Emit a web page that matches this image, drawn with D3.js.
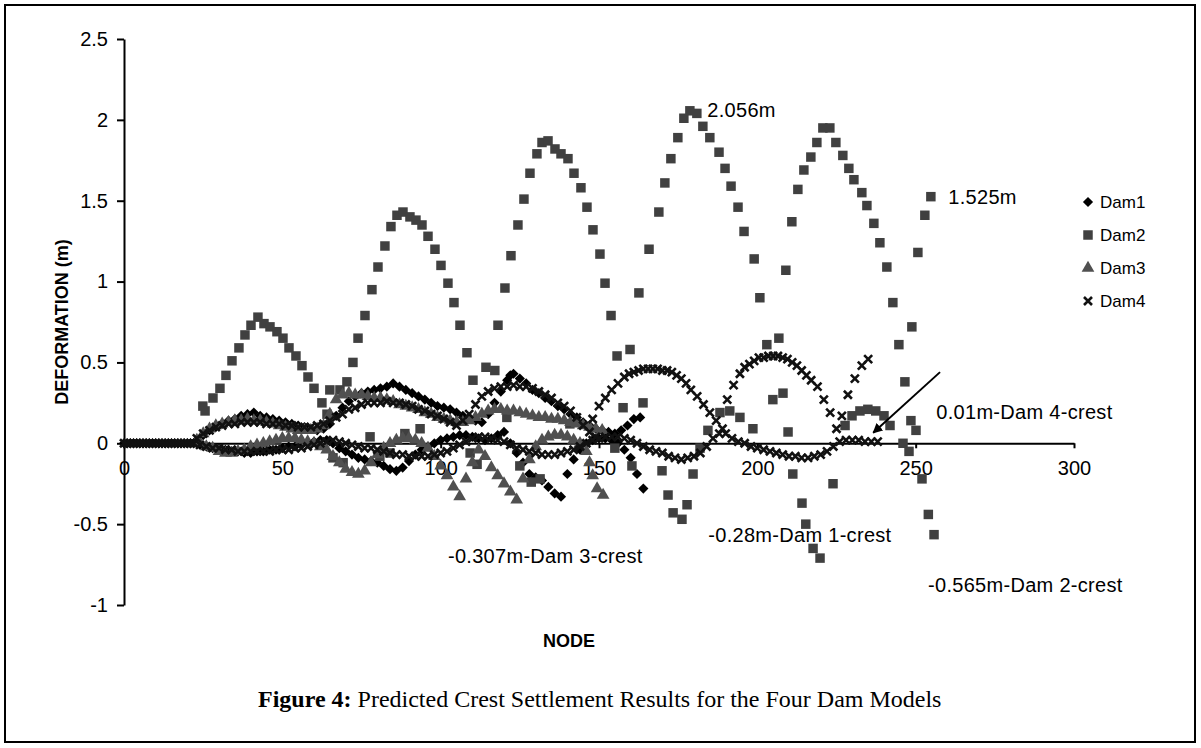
<!DOCTYPE html>
<html><head><meta charset="utf-8">
<script src="https://cdn.jsdelivr.net/npm/d3@7"></script>
<style>body{margin:0;background:#fff} svg{display:block}</style>
</head><body>
<svg id="c" width="1201" height="748"></svg>
<script>
// ---------- data ----------
const xTicks = [0, 50, 100, 150, 200, 250, 300];
const yTicks = [-1, -0.5, 0, 0.5, 1, 1.5, 2, 2.5];
const yTickLabels = ["-1", "-0.5", "0", "0.5", "1", "1.5", "2", "2.5"];
const seriesNames = ["Dam1", "Dam2", "Dam3", "Dam4"];

const dam1 = [
[0,0],[1,0],[2,0],[3,0],[4,0],[5,0],[6,0],[7,0],[8,0],[9,0],[10,0],[11,0],[12,0],[13,0],[14,0],[15,0],[16,0],[17,0],[18,0],[19,0],[20,0],[21,0],[22,0],
[23,0.02],[25,0.05],[27,0.08],[29,0.10],[31,0.12],[33,0.14],[35,0.15],[37,0.17],[39,0.18],[41,0.19],[43,0.17],[45,0.16],[47,0.15],[49,0.14],[51,0.13],[53,0.12],[55,0.11],[57,0.10],[59,0.09],[61,0.08],[63,0.09],[65,0.12],[67,0.17],[69,0.22],[71,0.26],[73,0.29],[75,0.31],[77,0.32],[79,0.33],[81,0.34],[83,0.35],[85,0.37],[87,0.35],[89,0.33],[91,0.31],[93,0.29],[95,0.27],[97,0.25],[99,0.23],[101,0.22],[103,0.21],[105,0.19],[107,0.17],[109,0.16],[111,0.14],[113,0.13],[115,0.18],[117,0.25],[119,0.32],[121,0.39],[122,0.42],[123,0.43],[125,0.40],[127,0.37],[129,0.33],[131,0.31],[133,0.28],[135,0.26],[137,0.23],[139,0.21],[141,0.18],[143,0.16],[145,0.13],[147,0.11],[149,0.09],[151,0.08],[153,0.07],[155,0.06],[157,0.08],[159,0.11],[161,0.15],[163,0.16],
[24,-0.01],[26,-0.02],[28,-0.03],[30,-0.03],[32,-0.04],[34,-0.05],[36,-0.05],[38,-0.06],[40,-0.06],[42,-0.05],[44,-0.05],[46,-0.04],[48,-0.04],[50,-0.03],[52,-0.02],[54,-0.02],[56,-0.01],[58,0.00],[60,0.01],[62,0.02],[64,0.02],[66,0.00],[68,-0.03],[70,-0.05],[72,-0.07],[74,-0.09],[76,-0.10],[78,-0.11],[80,-0.12],[82,-0.14],[84,-0.16],[86,-0.17],[88,-0.15],[90,-0.11],[92,-0.07],[94,-0.04],[96,-0.02],[98,0.00],[100,0.02],[102,0.03],[104,0.04],[106,0.05],[108,0.05],[110,0.04],[112,0.03],[114,0.02],[116,0.03],[118,0.05],[120,0.07],[122,0.00],[124,-0.06],[126,-0.12],[128,-0.19],[130,-0.21],[132,-0.23],[134,-0.27],[136,-0.31],[138,-0.33],[140,-0.19],[142,-0.10],[144,-0.04],[146,0.00],[148,0.02],[150,0.03],[152,0.03],[154,0.02],[156,0.00],[158,-0.04],[160,-0.09],[162,-0.19],[164,-0.28]
];

const dam2 = [
[24.9,0.23],[25.6,0.20],[28.1,0.28],[30.3,0.34],[32.2,0.42],[34.1,0.51],[36.3,0.59],[38.2,0.67],[40.1,0.73],[42.3,0.78],[44.2,0.74],[46.1,0.72],[48.3,0.69],[50.2,0.65],[52.1,0.59],[54.3,0.54],[56.2,0.48],[58.1,0.41],[60,0.34],[62.5,0.25],[64.1,0.18],
[65,0.33],[66,-0.09],[68.2,0.33],[69.2,-0.12],[70.4,0.38],[72.3,0.50],[73.9,0.65],[76.1,0.79],[77.7,0.04],[78.3,0.95],[80.2,1.09],[80.8,-0.08],[82.4,1.22],[84,-0.06],[84.3,1.34],[86.2,1.41],[88.1,1.43],[88.7,0.06],[90.3,1.40],[92.2,1.38],[93.5,0.09],[94.1,1.35],[96,1.28],[98.2,1.20],[100.1,1.10],[102.3,0.99],[104.2,0.87],[106.1,0.73],[108.3,0.56],[109.3,-0.06],[110.2,0.39],[111.5,-0.13],
[114.3,0.47],[117.1,0.45],[118.1,0.73],[120.3,0.96],[120.9,0.16],[122.2,1.16],[124.4,1.35],[125,-0.14],[126.3,1.51],[128.2,1.67],[128.6,-0.24],[130.4,1.79],[131.4,-0.22],[132,1.86],[133.9,1.87],[136.1,1.82],[138,1.79],[140.2,1.76],[140.8,0.12],[142.1,1.67],[144.3,1.58],[146.2,1.46],[148.1,1.32],[150.3,1.17],[151.9,0.99],[153.8,0.79],
[155,-0.03],[155.7,0.54],[157.6,0.22],[159.8,0.58],[160.4,-0.14],[162.6,0.93],[163.9,0.25],[165.8,1.20],[168.9,1.43],[169.9,-0.17],[170.8,1.61],[171.8,-0.32],[172.7,1.76],[173.4,-0.43],[174.9,1.89],[176.2,-0.47],[176.8,2.01],[177.8,-0.38],[178.7,2.056],[179.7,-0.19],[180.9,2.04],[181.9,-0.03],[182.8,1.96],[184.4,0.08],[185,1.89],[187.9,1.80],[188.2,0.19],[189.8,1.70],[191.3,0.20],[191.7,1.59],[193.9,1.46],[194.5,0.16],[195.8,1.31],[198.6,0.09],[199,1.14],[200.8,0.90],[203,0.61],
[204.9,0.27],[206.8,0.65],[208.1,0.31],[209,1.07],[209.7,0.07],[210.9,1.37],[211.2,-0.19],[212.8,1.57],[214.1,-0.37],[214.7,1.69],[215.3,-0.50],[216.9,1.77],[217.6,-0.65],[218.8,1.86],[219.8,-0.71],[220.7,1.95],[222.9,1.95],[223.9,-0.25],[224.8,1.86],[227,1.78],[227.7,0.11],[228.9,1.70],[229.9,0.17],[230.5,1.63],[232.4,0.20],[233,1.55],[234.6,1.47],[234.9,0.21],[236.8,1.36],[237.4,0.20],[238.7,1.24],[240,0.17],[240.9,1.09],[241.9,0.11],[242.8,0.87],[244.7,0.61],
[246,0.00],[246.6,0.38],[247.9,-0.05],[248.5,0.14],[248.8,0.72],[250.1,0.08],[250.7,1.18],[252,-0.22],[252.9,1.41],[254,-0.44],[254.8,1.525],[255.8,-0.565]
];

const dam3 = [
[23,0.02],[25,0.06],[27,0.09],[29,0.11],[31,0.12],[33,0.13],[35,0.14],[37,0.14],[39,0.15],[41,0.14],[43,0.14],[45,0.13],[47,0.12],[49,0.11],[51,0.10],[53,0.09],[55,0.08],[57,0.08],[59,0.08],[61,0.09],[63,0.11],[65,0.18],[67,0.27],[69,0.30],[71,0.31],[73,0.30],[75,0.30],[77,0.29],[79,0.28],[81,0.28],[83,0.27],[85,0.26],[87,0.24],[89,0.23],[91,0.22],[93,0.21],[95,0.19],[97,0.18],[99,0.16],[101,0.15],[103,0.14],[105,0.13],[107,0.13],[109,0.14],[111,0.16],[113,0.18],[115,0.20],[117,0.21],[119,0.21],[121,0.20],[123,0.20],[125,0.19],[127,0.18],[129,0.17],[131,0.16],[133,0.16],[135,0.15],[137,0.15],[139,0.14],[141,0.13],[143,0.12],[145,0.11],[147,0.10],[149,0.09],[151,0.08],
[24,0.00],[26,-0.02],[28,-0.03],[30,-0.05],[32,-0.06],[34,-0.06],[36,-0.05],[38,-0.04],[40,-0.02],[42,-0.01],[44,0.00],[46,0.01],[48,0.02],[50,0.03],[52,0.03],[54,0.03],[56,0.02],[58,0.01],[60,0.00],[62,-0.02],[64,-0.04],[66,-0.08],[68,-0.12],[70,-0.16],[72,-0.18],[74,-0.19],[76,-0.17],[78,-0.12],[80,-0.07],[82,-0.03],[84,0.00],[86,0.02],[88,0.03],[90,0.03],[92,0.02],[94,0.00],[96,-0.03],[98,-0.08],[100,-0.14],[102,-0.20],[104,-0.27],[106,-0.33],[108,-0.22],[110,-0.12],[112,-0.04],[114,-0.08],[116,-0.15],[118,-0.20],[120,-0.25],[122,-0.30],[124,-0.35],[126,-0.22],[128,-0.10],[130,-0.02],[132,0.02],[134,0.04],[136,0.05],[138,0.05],[140,0.04],[142,0.02],[144,0.00],[146,-0.05],[147,-0.12],[148,-0.20],[149.4,-0.28],[151.3,-0.32]
];

const dam4 = [
[0,0],[1,0],[2,0],[3,0],[4,0],[5,0],[6,0],[7,0],[8,0],[9,0],[10,0],[11,0],[12,0],[13,0],[14,0],[15,0],[16,0],[17,0],[18,0],[19,0],[20,0],[21,0],[22,0],
[23,0.03],[25,0.06],[27,0.08],[29,0.10],[31,0.11],[33,0.12],[35,0.12],[37,0.13],[39,0.13],[41,0.13],[43,0.13],[45,0.12],[47,0.12],[49,0.12],[51,0.11],[53,0.11],[55,0.10],[57,0.10],[59,0.10],[61,0.11],[63,0.12],[65,0.14],[67,0.16],[69,0.18],[71,0.21],[73,0.22],[75,0.24],[77,0.25],[79,0.25],[81,0.25],[83,0.26],[85,0.25],[87,0.25],[89,0.24],[91,0.23],[93,0.21],[95,0.20],[97,0.18],[99,0.17],[101,0.15],[103,0.13],[105,0.11],[107,0.14],[109,0.18],[111,0.24],[113,0.29],[115,0.32],[117,0.34],[119,0.35],[121,0.35],[123,0.36],[125,0.35],[127,0.35],[129,0.34],[131,0.32],[133,0.30],[135,0.28],[137,0.25],[139,0.23],[141,0.20],[143,0.16],[145,0.11],[147,0.07],[149,0.04],
[148,0.15],[150,0.23],[152,0.28],[154,0.33],[156,0.37],[158,0.41],[159.5,0.43],[161,0.44],[162.5,0.45],[164,0.46],[165.5,0.46],[167,0.46],[168.5,0.46],[170,0.45],[171.5,0.45],[173,0.44],[174.5,0.42],[176,0.40],[177.5,0.37],[179,0.33],[181,0.29],[183,0.24],[185,0.19],[187,0.14],[189,0.09],
[190.5,0.27],[192.5,0.36],[194.5,0.43],[196,0.47],[197.5,0.49],[199,0.51],[200.5,0.53],[202,0.53],[203.5,0.54],[205,0.54],[206.5,0.54],[208,0.53],[209.5,0.52],[211,0.50],[212.5,0.48],[214,0.45],[215.5,0.42],[217,0.39],[219,0.35],[221,0.27],[223,0.19],[225,0.09],
[226.7,0.17],[228.6,0.30],[230.8,0.40],[233,0.48],[235,0.52],
[24,-0.01],[26,-0.02],[28,-0.03],[30,-0.03],[32,-0.04],[34,-0.04],[36,-0.05],[38,-0.05],[40,-0.05],[42,-0.05],[44,-0.05],[46,-0.05],[48,-0.04],[50,-0.04],[52,-0.04],[54,-0.03],[56,-0.03],[58,-0.02],[60,-0.01],[62,0.00],[64,0.01],[66,0.02],[68,0.01],[70,0.00],[72,-0.01],[74,-0.02],[76,-0.03],[78,-0.03],[80,-0.04],[82,-0.05],[84,-0.06],[86,-0.07],[88,-0.07],[90,-0.08],[92,-0.08],[94,-0.08],[96,-0.08],[98,-0.07],[100,-0.06],[102,-0.05],[104,-0.03],[106,-0.01],[108,0.01],[110,0.03],[112,0.04],[114,0.04],[116,0.03],[118,0.02],[120,0.01],[122,-0.01],[124,-0.03],[126,-0.04],[128,-0.05],[130,-0.06],[132,-0.07],[134,-0.07],[136,-0.07],[138,-0.06],[140,-0.05],[142,-0.04],[144,-0.02],[146,0.00],[148,0.02],[150,0.03],[152,0.04],[154,0.04],[156,0.04],[158,0.03],[160,0.02],[162,0.00],[164,-0.02],[166,-0.04],[168,-0.05],[170,-0.06],[172,-0.08],[174,-0.09],[176,-0.10],[178,-0.09],[180,-0.08],[182,-0.06],[184,-0.02],[186,0.03],[188,0.06],[190,0.06],[192,0.03],[194,0.01],[196,0.00],[198,-0.02],[200,-0.03],[202,-0.04],[204,-0.05],[206,-0.06],[208,-0.07],[210,-0.08],[212,-0.08],[214,-0.09],[216,-0.09],[218,-0.08],[220,-0.07],[222,-0.05],[224,-0.02],[226,0.01],[228,0.02],[230,0.02],[232,0.02],[234,0.01],[236,0.01],[238,0.01]
];

const annotations = [
  {text: "2.056m", node: 184.2, value: 2.015},
  {text: "1.525m", node: 260.3, value: 1.48},
  {text: "0.01m-Dam 4-crest", node: 256.5, value: 0.15},
  {text: "-0.28m-Dam 1-crest", node: 184.5, value: -0.61},
  {text: "-0.307m-Dam 3-crest", node: 102.3, value: -0.74},
  {text: "-0.565m-Dam 2-crest", node: 253.9, value: -0.92}
];
const arrowFrom = [257.7, 0.44];
const arrowTo = [236.6, 0.065];

// ---------- layout ----------
const svg = d3.select("#c");
const x = d3.scaleLinear().domain([0, 300]).range([124, 1074]);
const y = d3.scaleLinear().domain([-1, 2.5]).range([605, 39]);
const labelFont = "'Liberation Sans', Arial, sans-serif";

svg.append("rect").attr("x", 5).attr("y", 5).attr("width", 1190).attr("height", 737)
  .attr("fill", "none").attr("stroke", "#000").attr("stroke-width", 2);

// y axis
const yAxis = svg.append("g").attr("transform", `translate(${x(0)},0)`)
  .call(d3.axisLeft(y).tickValues(yTicks).tickSize(7).tickSizeOuter(0).tickPadding(9)
    .tickFormat((d, i) => yTickLabels[i]));
// x axis at zero
const xAxis = svg.append("g").attr("transform", `translate(0,${y(0)})`)
  .call(d3.axisBottom(x).tickValues(xTicks).tickSize(5).tickSizeOuter(0).tickPadding(13));
[yAxis, xAxis].forEach(a => {
  a.selectAll("path,line").attr("stroke", "#000").attr("stroke-width", 2);
  a.selectAll("text").attr("font-family", labelFont).attr("font-size", 20).attr("fill", "#000");
});

// markers
const diamondType = {draw(ctx, size) { const r = Math.sqrt(size / 2);
  ctx.moveTo(0, -r); ctx.lineTo(r, 0); ctx.lineTo(0, r); ctx.lineTo(-r, 0); ctx.closePath(); }};
const crossType = {draw(ctx, size) { const r = Math.sqrt(size) / 2;
  ctx.moveTo(-r, -r); ctx.lineTo(r, r); ctx.moveTo(r, -r); ctx.lineTo(-r, r); }};
const styles = {
  Dam1: {sym: d3.symbol().type(diamondType).size(52), fill: "#000", stroke: "none", sw: 0},
  Dam2: {sym: d3.symbol().type(d3.symbolSquare).size(90), fill: "#404040", stroke: "none", sw: 0},
  Dam3: {sym: d3.symbol().type(d3.symbolTriangle).size(70), fill: "#505050", stroke: "none", sw: 0},
  Dam4: {sym: d3.symbol().type(crossType).size(64), fill: "none", stroke: "#111", sw: 2.6}
};
const seriesData = {Dam1: dam1, Dam2: dam2, Dam3: dam3, Dam4: dam4};

const plot = svg.append("g");
seriesNames.forEach(name => {
  const s = styles[name];
  plot.append("g").selectAll("path").data(seriesData[name]).join("path")
    .attr("transform", d => `translate(${x(d[0])},${y(d[1])})`)
    .attr("d", s.sym()).attr("fill", s.fill).attr("stroke", s.stroke).attr("stroke-width", s.sw);
});

// annotations
svg.append("g").selectAll("text").data(annotations).join("text")
  .attr("x", d => x(d.node)).attr("y", d => y(d.value))
  .attr("font-family", labelFont).attr("font-size", 20).attr("letter-spacing", 0.3).attr("fill", "#000")
  .text(d => d.text);

svg.append("defs").append("marker").attr("id", "ah").attr("viewBox", "0 0 10 10")
  .attr("refX", 9).attr("refY", 5).attr("markerWidth", 5).attr("markerHeight", 5)
  .attr("orient", "auto").append("path").attr("d", "M0,0L10,5L0,10z").attr("fill", "#000");
svg.append("line").attr("x1", x(arrowFrom[0])).attr("y1", y(arrowFrom[1]))
  .attr("x2", x(arrowTo[0])).attr("y2", y(arrowTo[1]))
  .attr("stroke", "#000").attr("stroke-width", 2).attr("marker-end", "url(#ah)");

// legend
const legend = svg.append("g").attr("transform", "translate(1088,202)");
seriesNames.forEach((name, i) => {
  const s = styles[name];
  const row = legend.append("g").attr("transform", `translate(0,${i * 33})`);
  row.append("path").attr("d", s.sym()).attr("fill", s.fill).attr("stroke", s.stroke).attr("stroke-width", s.sw);
  row.append("text").attr("x", 12).attr("y", 6).attr("font-family", labelFont).attr("font-size", 17).text(name);
});

// axis titles
svg.append("text").attr("x", 569).attr("y", 647).attr("text-anchor", "middle")
  .attr("font-family", labelFont).attr("font-weight", "bold").attr("font-size", 18).text("NODE");
svg.append("text").attr("transform", "translate(68,322) rotate(-90)").attr("text-anchor", "middle")
  .attr("font-family", labelFont).attr("font-weight", "bold").attr("font-size", 18).text("DEFORMATION (m)");

// caption
const cap = svg.append("text").attr("x", 258).attr("y", 707)
  .attr("font-family", "'Liberation Serif', 'Times New Roman', serif").attr("font-size", 24).attr("fill", "#000");
cap.append("tspan").attr("font-weight", "bold").text("Figure 4:");
cap.append("tspan").text(" Predicted Crest Settlement Results for the Four Dam Models");
</script>
</body></html>
